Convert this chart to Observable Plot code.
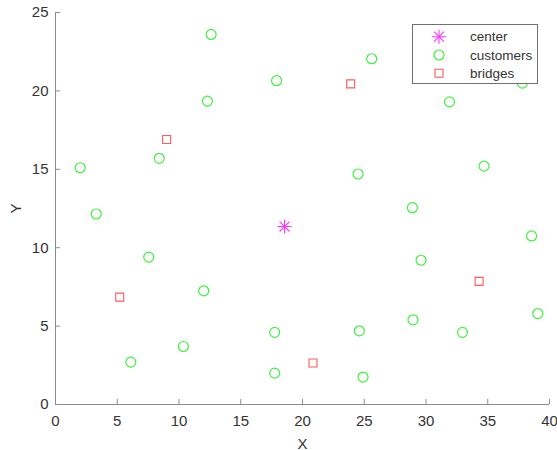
<!DOCTYPE html>
<html>
<head>
<meta charset="utf-8">
<script src="https://cdn.jsdelivr.net/npm/d3@7"></script>
<script src="https://cdn.jsdelivr.net/npm/@observablehq/plot@0.6"></script>
<style>
  html, body { margin: 0; padding: 0; background: #fff; }
  #wrap { position: relative; width: 557px; height: 450px; }
  #legend { position: absolute; left: 412px; top: 24px; }
</style>
</head>
<body>
<div id="wrap"></div>
<script>
// ---- data ----
const xTicks = [0, 5, 10, 15, 20, 25, 30, 35, 40];
const yTicks = [0, 5, 10, 15, 20, 25];

const centerX = [18.55];
const centerY = [11.35];

const customersX = [2.0, 3.3, 8.4, 12.3, 12.6, 17.9, 25.6, 31.9, 37.8, 24.5, 34.7, 28.9, 7.55, 12.0, 17.75, 10.35, 6.1, 17.75, 38.55, 29.6, 39.05, 28.95, 24.6, 32.95, 24.9];
const customersY = [15.1, 12.15, 15.7, 19.35, 23.6, 20.65, 22.05, 19.3, 20.5, 14.7, 15.2, 12.55, 9.4, 7.25, 4.6, 3.7, 2.7, 2.0, 10.75, 9.2, 5.8, 5.4, 4.7, 4.6, 1.75];

const bridgesX = [9.0, 23.9, 5.2, 34.3, 20.85];
const bridgesY = [16.9, 20.45, 6.85, 7.85, 2.65];

const legendLabels = ["center", "customers", "bridges"];
const xLabel = "X";
const yLabel = "Y";

// ---- build ----
const customers = customersX.map((x, i) => ({x, y: customersY[i]}));
const bridges = bridgesX.map((x, i) => ({x, y: bridgesY[i]}));
const center = centerX.map((x, i) => ({x, y: centerY[i]}));

const axisColor = "#8c8c8c";
const textColor = "#333333";
const cGreen = "#3ef03e";
const cRed = "#ff5a5a";
const cMag = "#ff33ff";
const font = "'Liberation Sans', Arial, sans-serif";

const W = 557, H = 450, mL = 55, mR = 8, mT = 12, mB = 46;
const frameH = H - mT - mB, frameW = W - mL - mR;

const chart = Plot.plot({
  width: W, height: H,
  marginLeft: mL, marginRight: mR, marginTop: mT, marginBottom: mB,
  x: {domain: [0, 40]},
  y: {domain: [0, 25]},
  style: {fontFamily: font, fontSize: "15px", color: textColor, background: "#fff"},
  marks: [
    Plot.ruleY([0], {stroke: axisColor}),
    Plot.ruleX([0], {stroke: axisColor}),
    Plot.ruleX(xTicks, {stroke: axisColor, insetTop: frameH - 5}),
    Plot.ruleY(yTicks, {stroke: axisColor, insetRight: frameW - 5}),
    Plot.axisX(xTicks, {tickSize: 0, tickPadding: 11, fill: textColor, fontSize: 15, label: xLabel, labelAnchor: "center", labelOffset: 44, labelArrow: "none"}),
    Plot.axisY(yTicks, {tickSize: 0, tickPadding: 7, fill: textColor, fontSize: 15, label: yLabel, labelAnchor: "center", labelOffset: 45, labelArrow: "none"}),
    Plot.dot(customers, {x: "x", y: "y", symbol: "circle", r: 5, stroke: cGreen, strokeWidth: 1.2, fill: "none"}),
    Plot.dot(bridges, {x: "x", y: "y", symbol: "square", r: 4.5, stroke: cRed, strokeWidth: 1.1, fill: "none"}),
    Plot.dot(center, {x: "x", y: "y", symbol: "plus", r: 4.6, stroke: cMag, strokeWidth: 1.1}),
    Plot.dot(center, {x: "x", y: "y", symbol: "times", r: 4.6, stroke: cMag, strokeWidth: 1.1})
  ]
});
document.getElementById("wrap").appendChild(chart);

// ---- legend ----
const lw = 125, lh = 59;
const leg = d3.select("#wrap").append("svg")
  .attr("id", "legend").attr("width", lw + 1).attr("height", lh + 1);
leg.append("rect").attr("x", 0.5).attr("y", 0.5).attr("width", lw).attr("height", lh)
  .attr("fill", "#fff").attr("stroke", "#707070");
const rowY = i => 12.7 + i * 18.3;
const sym = [
  g => { g.append("path").attr("d", d3.symbol(d3.symbolPlus, 4.6 * 4.6 * Math.PI)()).attr("stroke", cMag).attr("stroke-width", 1.1).attr("fill", "none");
         g.append("path").attr("d", d3.symbol(d3.symbolTimes, 4.6 * 4.6 * Math.PI)()).attr("stroke", cMag).attr("stroke-width", 1.1).attr("fill", "none"); },
  g => { g.append("path").attr("d", d3.symbol(d3.symbolCircle, 5 * 5 * Math.PI)()).attr("stroke", cGreen).attr("stroke-width", 1.2).attr("fill", "none"); },
  g => { g.append("path").attr("d", d3.symbol(d3.symbolSquare, 4.5 * 4.5 * Math.PI)()).attr("stroke", cRed).attr("stroke-width", 1.1).attr("fill", "none"); }
];
legendLabels.forEach((lab, i) => {
  const g = leg.append("g").attr("transform", `translate(27,${rowY(i)})`);
  sym[i](g);
  leg.append("text").attr("x", 58).attr("y", rowY(i)).attr("dy", "0.35em")
    .attr("font-family", font).attr("font-size", "13.5px")
    .attr("fill", textColor).text(lab);
});
</script>
</body>
</html>
